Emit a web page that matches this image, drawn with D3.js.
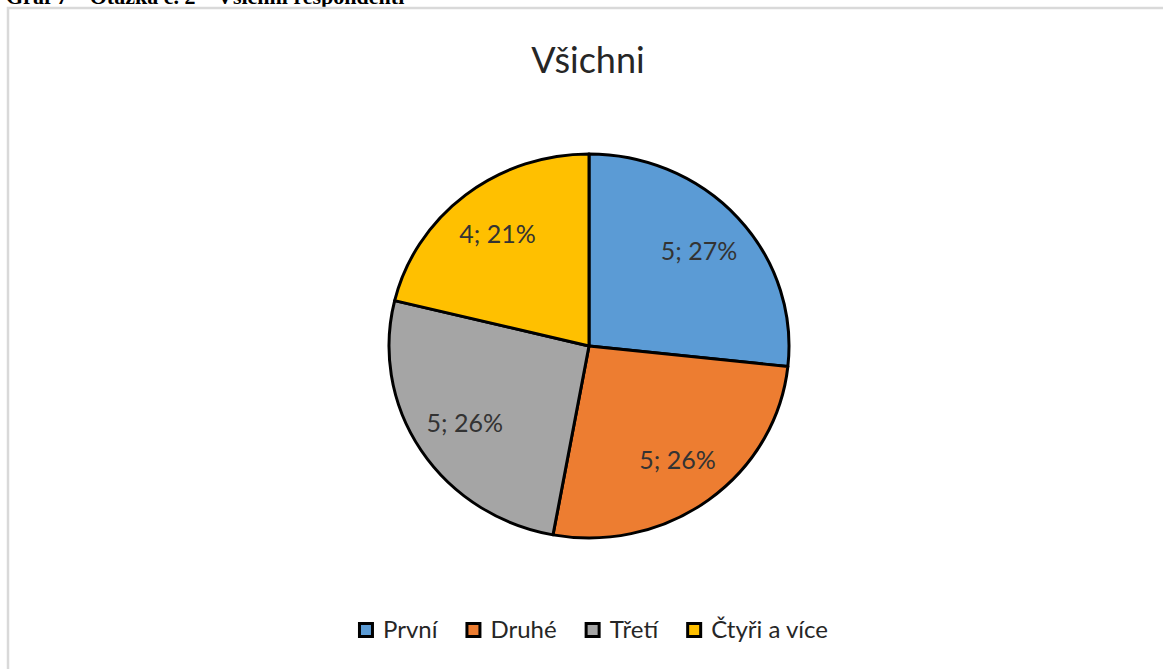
<!DOCTYPE html>
<html>
<head>
<meta charset="utf-8">
<script src="https://cdn.jsdelivr.net/npm/d3@7"></script>
<style>
  body { margin: 0; background: #fff; }
  text { font-family: Lato, "Open Sans", sans-serif; }
</style>
</head>
<body>
<script>
var width = 1163,
    height = 669

// data
var categories = ["První", "Druhé", "Třetí", "Čtyři a více"];
var values = [5.1, 5.0, 4.95, 4.05];
var colors = ["#5B9BD5", "#ED7D31", "#A5A5A5", "#FFC000"];

var chartTitle = "Všichni";
var caption = "Graf 7 – Otázka č. 2 – Všichni respondenti";

var svg = d3.select("body").append("svg")
    .attr("width", width)
    .attr("height", height);

// caption of the document, cut off at the top
svg.append("text")
    .attr("x", 6)
    .attr("y", 4)
    .style("font-family", "'Liberation Serif', serif")
    .style("font-weight", "bold")
    .style("font-size", "22px")
    .style("fill", "#000")
    .text(caption);

// chart frame
svg.append("rect")
    .attr("x", 8)
    .attr("y", 8)
    .attr("width", 1250)
    .attr("height", 760)
    .style("fill", "#fff")
    .style("stroke", "#d9d9d9")
    .style("stroke-width", 2.5);

svg.append("text")
    .attr("x", 588)
    .attr("y", 73)
    .attr("text-anchor", "middle")
    .style("font-size", "36px")
    .style("fill", "#262626")
    .text(chartTitle);

var cx = 589, cy = 346, r = 200;

var pie = d3.pie().sort(null).value(d => d);
var arcs = pie(values);
var total = d3.sum(values);

var arc = d3.arc().innerRadius(0).outerRadius(r);
var labelArc = d3.arc().innerRadius(148).outerRadius(148);

var g = svg.append("g").attr("transform", "translate(" + cx + "," + cy + ")");

// the picture is a little squeezed vertically
g.append("g")
    .attr("transform", "scale(1,0.96)")
  .selectAll(".slice")
    .data(arcs)
    .enter()
    .append("path")
    .attr("class", "slice")
    .attr("d", arc)
    .style("fill", (d, i) => colors[i])
    .style("stroke", "#000")
    .style("stroke-width", 3)
    .style("stroke-linejoin", "round");

g.selectAll(".label")
    .data(arcs)
    .enter()
    .append("text")
    .attr("class", "label")
    .attr("transform", d => {
      var c = labelArc.centroid(d);
      return "translate(" + c[0] + "," + c[1] * 0.96 + ")";
    })
    .attr("text-anchor", "middle")
    .attr("dy", "0.35em")
    .style("font-size", "25px")
    .style("fill", "#333")
    .text(d => Math.round(d.value) + "; " + Math.round(d.value / total * 100) + "%");

// legend
var legend = svg.append("g");
var items = legend.selectAll(".item")
    .data(categories)
    .enter()
    .append("g")
    .attr("class", "item");

items.append("rect")
    .attr("x", 1.5)
    .attr("y", -6.5)
    .attr("width", 13)
    .attr("height", 13)
    .style("fill", (d, i) => colors[i])
    .style("stroke", "#000")
    .style("stroke-width", 3);

items.append("text")
    .attr("x", 25)
    .attr("dy", "0.35em")
    .style("font-size", "24px")
    .style("fill", "#262626")
    .text(d => d);

var gap = 28;
var xoff = 0;
items.each(function() {
  var w = this.querySelector("text").getComputedTextLength();
  d3.select(this).attr("transform", "translate(" + xoff + ",0)");
  xoff += 25 + w + gap;
});
xoff -= gap;
legend.attr("transform", "translate(" + (593 - xoff / 2) + ",630)");
</script>
</body>
</html>
